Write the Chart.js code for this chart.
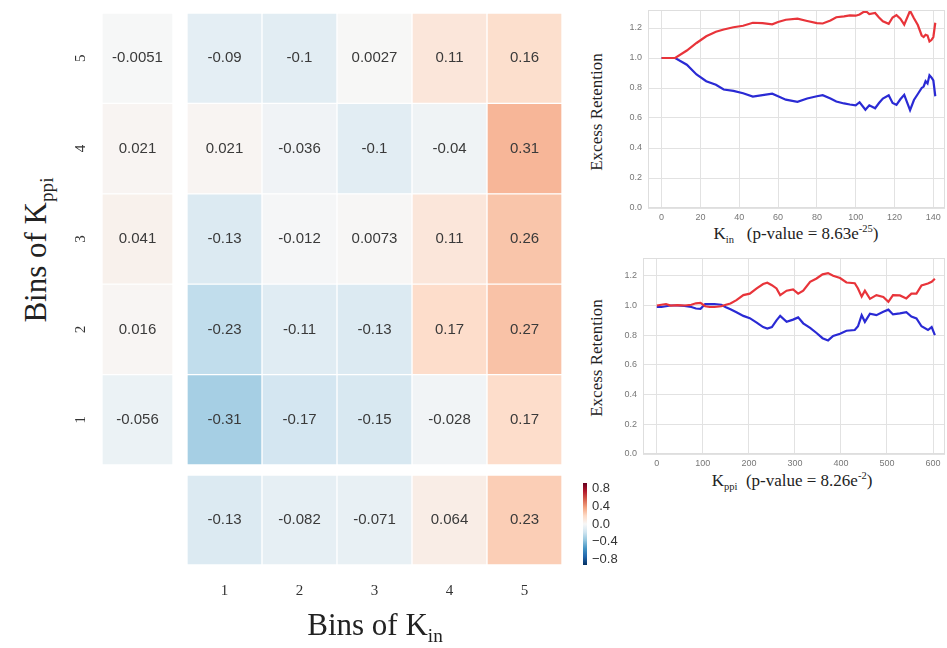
<!DOCTYPE html>
<html>
<head>
<meta charset="utf-8">
<script src="https://cdn.jsdelivr.net/npm/chart.js@4"></script>
<style>
  body { margin: 0; background: #fff; }
  #wrap { position: relative; width: 947px; height: 648px; overflow: hidden; }
  .box { position: absolute; }
  .ttl { position: absolute; font-family: "Liberation Serif", "DejaVu Serif", serif; color: #222; white-space: nowrap; }
  .ttl sub, .ttl sup { font-size: 62%; }
  .rot { transform: translate(-50%, -50%) rotate(-90deg); }
  .ctr { transform: translate(-50%, -50%); }
</style>
</head>
<body>
<div id="wrap">
  <div class="box" style="left:61px; top:13px;"><canvas id="leftCol" width="112" height="452"></canvas></div>
  <div class="box" style="left:187px; top:13px;"><canvas id="mainGrid" width="375" height="452"></canvas></div>
  <div class="box" style="left:187px; top:475px;"><canvas id="bottomRow" width="375" height="145"></canvas></div>
  <div class="box" style="left:578px; top:478px;"><canvas id="colorBar" width="50" height="92"></canvas></div>
  <div class="box" style="left:620px; top:5px;"><canvas id="kinChart" width="327" height="215"></canvas></div>
  <div class="box" style="left:615px; top:253px;"><canvas id="kppiChart" width="332" height="213"></canvas></div>

  <div class="ttl rot" style="left:38px; top:250px; font-size:31px;">Bins of K<sub>ppi</sub></div>
  <div class="ttl ctr" style="left:375px; top:627px; font-size:31px;">Bins of K<sub>in</sub></div>
  <div class="ttl rot" style="left:597px; top:112px; font-size:17px;">Excess Retention</div>
  <div class="ttl ctr" style="left:796px; top:234px; font-size:17px;">K<sub>in</sub>&nbsp;&nbsp; (p-value = 8.63e<sup>-25</sup>)</div>
  <div class="ttl rot" style="left:597px; top:358px; font-size:17px;">Excess Retention</div>
  <div class="ttl ctr" style="left:792px; top:481px; font-size:17px;">K<sub>ppi</sub>&nbsp; (p-value = 8.26e<sup>-2</sup>)</div>
</div>

<script>
// heatmap bins (rows listed top to bottom)
var kinBins = ['1', '2', '3', '4', '5'];
var kppiBins = ['5', '4', '3', '2', '1'];

// main grid, one row per K_ppi bin (5 .. 1), one value per K_in bin
var heatRow5 = [-0.09, -0.1, 0.0027, 0.11, 0.16];
var heatRow4 = [0.021, -0.036, -0.1, -0.04, 0.31];
var heatRow3 = [-0.13, -0.012, 0.0073, 0.11, 0.26];
var heatRow2 = [-0.23, -0.11, -0.13, 0.17, 0.27];
var heatRow1 = [-0.31, -0.17, -0.15, -0.028, 0.17];
var heatRows = [heatRow5, heatRow4, heatRow3, heatRow2, heatRow1];

// marginals
var kppiMargin = [-0.0051, 0.021, 0.041, 0.016, -0.056];
var kinMargin = [-0.13, -0.082, -0.071, 0.064, 0.23];

var colorBarTicks = [-0.8, -0.4, 0, 0.4, 0.8];

// excess retention vs K_in
var kinX = [0, 7, 13, 18, 23, 28, 32, 37, 42, 47, 52, 57, 60, 64, 70, 75, 80, 83, 87, 90, 94, 97, 100, 102, 105, 107, 110, 112, 114, 117, 119, 121, 123, 125, 128, 130, 132, 134, 135, 136, 137, 138, 139, 140, 141];
var kinRed = [1.0, 1.0, 1.05, 1.10, 1.145, 1.175, 1.19, 1.205, 1.215, 1.235, 1.233, 1.225, 1.24, 1.255, 1.262, 1.247, 1.233, 1.23, 1.25, 1.272, 1.277, 1.284, 1.282, 1.29, 1.315, 1.293, 1.30, 1.27, 1.245, 1.228, 1.27, 1.286, 1.262, 1.222, 1.315, 1.265, 1.22, 1.15, 1.14, 1.155, 1.15, 1.11, 1.12, 1.14, 1.235];
var kinBlue = [1.0, 1.0, 0.955, 0.89, 0.845, 0.822, 0.79, 0.781, 0.765, 0.743, 0.752, 0.762, 0.745, 0.722, 0.708, 0.73, 0.745, 0.752, 0.73, 0.71, 0.697, 0.69, 0.685, 0.705, 0.655, 0.685, 0.665, 0.70, 0.73, 0.752, 0.70, 0.688, 0.725, 0.755, 0.652, 0.72, 0.76, 0.80, 0.81, 0.845, 0.83, 0.885, 0.87, 0.85, 0.745];
var kinTicks = [0, 20, 40, 60, 80, 100, 120, 140];

// excess retention vs K_ppi
var kppiX = [0, 10, 20, 30, 45, 60, 75, 85, 95, 105, 115, 125, 140, 150, 160, 173, 188, 202, 217, 231, 240, 250, 260, 268, 282, 296, 307, 318, 333, 347, 360, 372, 383, 398, 412, 430, 437, 445, 452, 463, 477, 492, 503, 513, 528, 542, 553, 564, 575, 589, 597, 604];
var kppiRed = [1.0, 1.005, 1.01, 1.0, 1.003, 1.0, 1.005, 1.015, 1.018, 0.995, 0.99, 0.99, 0.995, 1.005, 1.014, 1.036, 1.07, 1.08, 1.115, 1.145, 1.153, 1.137, 1.115, 1.07, 1.10, 1.108, 1.08, 1.10, 1.16, 1.182, 1.21, 1.218, 1.2, 1.185, 1.155, 1.15, 1.115, 1.06, 1.1, 1.045, 1.07, 1.058, 1.025, 1.07, 1.068, 1.048, 1.08, 1.08, 1.135, 1.148, 1.16, 1.18];
var kppiBlue = [0.99, 0.99, 0.995, 1.0, 1.0, 0.998, 0.99, 0.98, 0.978, 1.01, 1.01, 1.01, 1.005, 0.988, 0.975, 0.955, 0.93, 0.915, 0.885, 0.855, 0.845, 0.855, 0.9, 0.93, 0.89, 0.905, 0.92, 0.88, 0.85, 0.815, 0.78, 0.765, 0.795, 0.81, 0.83, 0.835, 0.86, 0.935, 0.89, 0.945, 0.935, 0.958, 0.972, 0.94, 0.947, 0.955, 0.925, 0.913, 0.86, 0.835, 0.855, 0.80];
var kppiTicks = [0, 100, 200, 300, 400, 500, 600];

var retTicks = [0, 0.2, 0.4, 0.6, 0.8, 1.0, 1.2];


// RdBu_r colour map
var cmapStops = ['#053061', '#2166ac', '#4393c3', '#92c5de', '#d1e5f0', '#f7f7f7', '#fddbc7', '#f4a582', '#d6604d', '#b2182b', '#67001f'];
var vMin = -0.92, vMax = 0.92;

function hexRgb(h) {
	return [parseInt(h.substr(1, 2), 16), parseInt(h.substr(3, 2), 16), parseInt(h.substr(5, 2), 16)];
}

function cmap(v) {
	var t = (v - vMin) / (vMax - vMin);
	t = Math.max(0, Math.min(1, t)) * (cmapStops.length - 1);
	var i = Math.min(Math.floor(t), cmapStops.length - 2);
	var f = t - i;
	var a = hexRgb(cmapStops[i]), b = hexRgb(cmapStops[i + 1]);
	var c = [0, 1, 2].map(function (k) { return Math.round(a[k] + (b[k] - a[k]) * f); });
	return 'rgb(' + c.join(',') + ')';
}

function fmt(v) {
	return String(Number(v.toPrecision(2)));
}

var serifFont = '"Liberation Serif", "DejaVu Serif", serif';
var sansFont = '"Liberation Sans", Arial, sans-serif';

// writes each cell's value on top of its bar
var cellText = {
	id: 'cellText',
	afterDatasetsDraw: function (chart) {
		var ctx = chart.ctx;
		ctx.save();
		ctx.font = '15px ' + sansFont;
		ctx.fillStyle = '#3a3a3a';
		ctx.textAlign = 'center';
		ctx.textBaseline = 'middle';
		chart.data.datasets.forEach(function (ds, i) {
			if (!ds.vals) return;
			chart.getDatasetMeta(i).data.forEach(function (el, j) {
				var p = el.getCenterPoint();
				ctx.fillText(fmt(ds.vals[j]), p.x, p.y);
			});
		});
		ctx.restore();
	}
};

// light frame round the plot area (seaborn whitegrid spines)
var plotFrame = {
	id: 'plotFrame',
	afterDraw: function (chart) {
		var a = chart.chartArea, ctx = chart.ctx;
		ctx.save();
		ctx.strokeStyle = '#dedede';
		ctx.lineWidth = 1;
		ctx.strokeRect(a.left + 0.5, a.top + 0.5, a.right - a.left - 1, a.bottom - a.top - 1);
		ctx.restore();
	}
};

var commonOpts = {
	responsive: false,
	animation: false,
	plugins: { legend: { display: false }, tooltip: { enabled: false } }
};

function cellDefaults(ds) {
	ds.borderColor = 'rgba(255,255,255,0.6)';
	ds.borderWidth = 1;
	ds.borderSkipped = false;
	ds.barPercentage = 1;
	ds.categoryPercentage = 1;
	ds.grouped = false;
	return ds;
}

// vertical axes: fixed width, no extra padding from the labels
function fixWidth(w) {
	return function (s) { s.width = w; s.paddingTop = 0; s.paddingBottom = 0; };
}


// main 5x5 grid
var gridSets = [];
for (var c = 0; c < kinBins.length; c++) {
	gridSets.push(cellDefaults({
		data: heatRows.map(function () { return [c, c + 1]; }),
		backgroundColor: heatRows.map(function (r) { return cmap(r[c]); }),
		vals: heatRows.map(function (r) { return r[c]; })
	}));
}
new Chart(document.getElementById('mainGrid'), {
	type: 'bar',
	data: { labels: kppiBins, datasets: gridSets },
	options: Object.assign({}, commonOpts, {
		indexAxis: 'y',
		layout: { padding: 0 },
		scales: {
			x: { type: 'linear', min: 0, max: kinBins.length, display: false },
			y: { display: false }
		}
	}),
	plugins: [cellText]
});

// K_ppi marginal column with row labels
new Chart(document.getElementById('leftCol'), {
	type: 'bar',
	data: {
		labels: kppiBins,
		datasets: [cellDefaults({
			data: kppiMargin.map(function () { return [0, 1]; }),
			backgroundColor: kppiMargin.map(cmap),
			vals: kppiMargin
		})]
	},
	options: Object.assign({}, commonOpts, {
		indexAxis: 'y',
		layout: { padding: 0 },
		scales: {
			x: { type: 'linear', min: 0, max: 1, display: false },
			y: {
				position: 'left',
				grid: { display: false, drawTicks: false },
				border: { display: false },
				ticks: { font: { family: serifFont, size: 15 }, color: '#333', minRotation: 90, maxRotation: 90, crossAlign: 'center', padding: 17 },
				afterFit: fixWidth(41)
			}
		}
	}),
	plugins: [cellText]
});

// K_in marginal row with column labels
new Chart(document.getElementById('bottomRow'), {
	type: 'bar',
	data: {
		labels: kinBins,
		datasets: [cellDefaults({
			data: kinMargin.map(function () { return [0, 1]; }),
			backgroundColor: kinMargin.map(cmap),
			vals: kinMargin
		})]
	},
	options: Object.assign({}, commonOpts, {
		layout: { padding: 0 },
		scales: {
			y: { type: 'linear', min: 0, max: 1, display: false },
			x: {
				grid: { display: false, drawTicks: false },
				border: { display: false },
				ticks: { font: { family: serifFont, size: 15 }, color: '#333', padding: 17 },
				afterFit: function (s) { s.height = 55; s.paddingLeft = 0; s.paddingRight = 0; }
			}
		}
	}),
	plugins: [cellText]
});

// colour bar
new Chart(document.getElementById('colorBar'), {
	type: 'bar',
	data: {
		labels: ['c'],
		datasets: [{
			data: [[vMin, vMax]],
			barPercentage: 1, categoryPercentage: 1, borderWidth: 0,
			backgroundColor: function (ctx) {
				var a = ctx.chart.chartArea;
				if (!a) return '#ccc';
				var g = ctx.chart.ctx.createLinearGradient(0, a.bottom, 0, a.top);
				cmapStops.forEach(function (s, i) { g.addColorStop(i / (cmapStops.length - 1), s); });
				return g;
			}
		}]
	},
	options: Object.assign({}, commonOpts, {
		layout: { padding: { left: 5, top: 5, bottom: 5, right: 0 } },
		scales: {
			x: { display: false },
			y: {
				position: 'right', min: vMin, max: vMax,
				grid: { display: false, drawTicks: false },
				border: { display: false },
				afterBuildTicks: function (s) { s.ticks = colorBarTicks.map(function (v) { return { value: v }; }); },
				ticks: {
					autoSkip: false,
					font: { family: sansFont, size: 13 }, color: '#333', padding: 5,
					callback: function (v) { return (v < 0 ? '\u2212' : '') + Math.abs(v).toFixed(1); }
				},
				afterFit: fixWidth(41)
			}
		}
	})
});


function retentionChart(canvasID, xArr, redArr, blueArr, xTicks, xMin, xMax) {
	var pts = function (ys) { return xArr.map(function (x, i) { return { x: x, y: ys[i] }; }); };
	var tickFont = { family: sansFont, size: 9 };
	return new Chart(document.getElementById(canvasID), {
		type: 'line',
		data: {
			datasets: [
				{ data: pts(redArr), borderColor: 'rgb(232,52,58)', borderWidth: 2.2, pointRadius: 0, tension: 0 },
				{ data: pts(blueArr), borderColor: 'rgb(42,42,212)', borderWidth: 2.2, pointRadius: 0, tension: 0 }
			]
		},
		options: Object.assign({}, commonOpts, {
			layout: { padding: { top: 5, right: 2, left: 0, bottom: 0 } },
			scales: {
				x: {
					type: 'linear', min: xMin, max: xMax,
					afterBuildTicks: function (s) { s.ticks = xTicks.map(function (v) { return { value: v }; }); },
					grid: { color: '#e2e2e2', drawTicks: false },
					border: { display: false },
					ticks: { autoSkip: false, font: tickFont, color: '#777', padding: 4, maxRotation: 0 },
					afterFit: function (s) { s.height = 12; s.paddingLeft = 0; s.paddingRight = 0; }
				},
				y: {
					min: 0, max: 1.32,
					afterBuildTicks: function (s) { s.ticks = retTicks.map(function (v) { return { value: v }; }); },
					grid: { color: '#e2e2e2', drawTicks: false },
					border: { display: false },
					ticks: { autoSkip: false, font: tickFont, color: '#777', padding: 6, callback: function (v) { return v.toFixed(1); } },
					afterFit: fixWidth(28)
				}
			}
		}),
		plugins: [plotFrame]
	});
}

retentionChart('kinChart', kinX, kinRed, kinBlue, kinTicks, -7, 146);
retentionChart('kppiChart', kppiX, kppiRed, kppiBlue, kppiTicks, -30, 626);
</script>
</body>
</html>
